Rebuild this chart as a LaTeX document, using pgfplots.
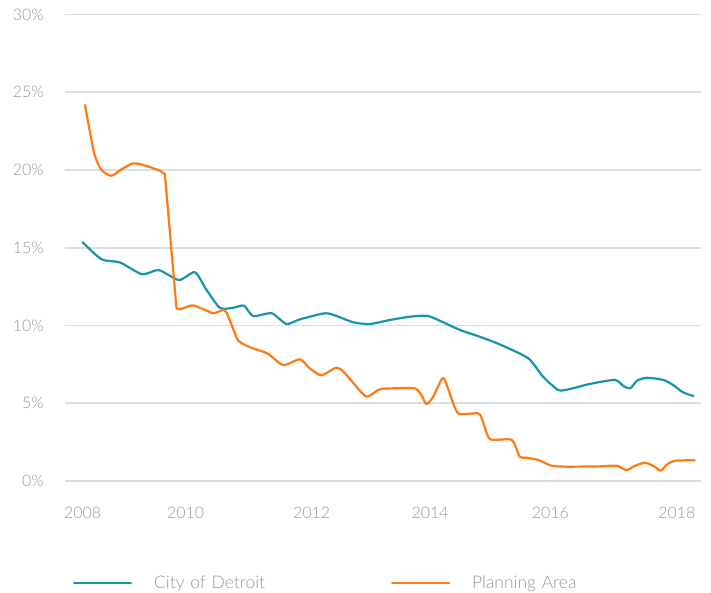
\documentclass[border=0pt]{standalone}
\usepackage{fontspec}
\setmainfont{Lato}[UprightFont=* Light]
\usepackage{pgfplots}
\pgfplotsset{compat=1.18}
\definecolor{teal1}{RGB}{21,150,166}
\definecolor{orange1}{RGB}{255,122,20}
\definecolor{gridc}{RGB}{222,222,222}
\definecolor{txtc}{RGB}{150,152,162}
\begin{document}
\begin{tikzpicture}
\path[use as bounding box] (-65bp,-112.2bp) rectangle (646bp,480.8bp);
\begin{axis}[
  at={(0,0)}, anchor=south west,
  scale only axis, width=635.7bp, height=466.2bp,
  xmin=2008.034, xmax=2018.388, ymin=0, ymax=30,
  axis line style={draw=none},
  xtick={2008.32,2010,2012.05,2013.98,2015.94,2018},
  xticklabels={2008,2010,2012,2014,2016,2018},
  ytick={0,5,10,15,20,25,30},
  yticklabels={0\%,5\%,10\%,15\%,20\%,25\%,30\%},
  major tick length=0pt,
  ymajorgrids, grid style={gridc, line width=1.8bp},
  tick label style={font=\fontsize{16}{18}\selectfont, text=txtc},
  /pgf/number format/assume math mode=true,
  yticklabel style={anchor=east, inner sep=0pt, xshift=-21bp},
  xticklabel style={anchor=north, inner sep=0pt, yshift=-26.5bp},
  clip=false,
  legend columns=2,
  legend style={at={(axis description cs:0.0126,-0.219)}, anchor=west, draw=none, fill=none,
    inner sep=0pt, outer sep=0pt, font=\fontsize{17.5}{20}\selectfont, text=txtc,
    nodes={inner sep=0pt, text width=237bp, align=left}},
  legend image code/.code={\draw[#1] (0bp,0bp) -- (57bp,0bp); \path[draw=none] (0bp,0bp) -- (80bp,0bp);},
  every axis plot/.append style={line width=2.2bp, line cap=round, line join=round},
]
\addplot[teal1, smooth, tension=0.4] coordinates {
(2008.32,15.35) (2008.63,14.25) (2008.93,14.05) (2009.29,13.29) (2009.56,13.56)
(2009.89,12.92) (2010.15,13.42) (2010.34,12.28) (2010.56,11.12) (2010.78,11.14)
(2010.95,11.27) (2011.10,10.60) (2011.40,10.78) (2011.64,10.09) (2011.86,10.39)
(2012.27,10.78) (2012.46,10.60) (2012.73,10.20) (2013.00,10.09) (2013.33,10.35)
(2013.65,10.56) (2013.93,10.62) (2014.14,10.30) (2014.47,9.70) (2014.79,9.27)
(2015.12,8.77) (2015.58,7.88) (2015.82,6.70) (2016.07,5.84) (2016.26,5.91)
(2016.58,6.23) (2016.99,6.49) (2017.13,6.10) (2017.24,5.95) (2017.35,6.44)
(2017.51,6.63) (2017.78,6.49) (2017.94,6.16) (2018.10,5.69) (2018.27,5.46)
};
\addlegendentry{City of Detroit}
\addplot[orange1, smooth, tension=0.4] coordinates {
(2009.85,11.10)
(2009.91,11.04) (2010.11,11.29) (2010.29,11.04) (2010.45,10.78) (2010.61,10.99)
(2010.67,10.78) (2010.78,9.70) (2010.86,9.00) (2011.05,8.59) (2011.26,8.31)
(2011.35,8.16) (2011.59,7.45) (2011.86,7.82) (2012.02,7.24) (2012.21,6.79)
(2012.45,7.28) (2012.57,7.02) (2012.78,6.06) (2012.95,5.41) (2013.16,5.89)
(2013.38,5.95) (2013.73,5.95) (2013.84,5.52) (2013.92,4.93) (2014.03,5.41)
(2014.19,6.62) (2014.30,5.63) (2014.44,4.34) (2014.77,4.33) (2014.85,3.70)
(2014.96,2.67) (2015.31,2.63) (2015.44,1.55) (2015.55,1.49) (2015.74,1.34)
(2015.96,0.97) (2016.21,0.91) (2016.75,0.93) (2017.02,0.97) (2017.18,0.69)
(2017.32,0.97) (2017.48,1.16) (2017.62,0.95) (2017.74,0.65) (2017.83,1.02)
(2017.97,1.29) (2018.29,1.32)
};
\addlegendentry{Planning Area}
\addplot[orange1, smooth, tension=0.4, forget plot] coordinates {
(2008.36,24.18) (2008.51,21.07) (2008.63,20.00) (2008.79,19.63) (2008.96,20.06)
(2009.15,20.43) (2009.36,20.26) (2009.58,19.95) (2009.66,19.74)
};
\addplot[orange1, forget plot] coordinates {
(2009.66,19.74) (2009.85,11.10)
};
\end{axis}
\end{tikzpicture}
\end{document}
